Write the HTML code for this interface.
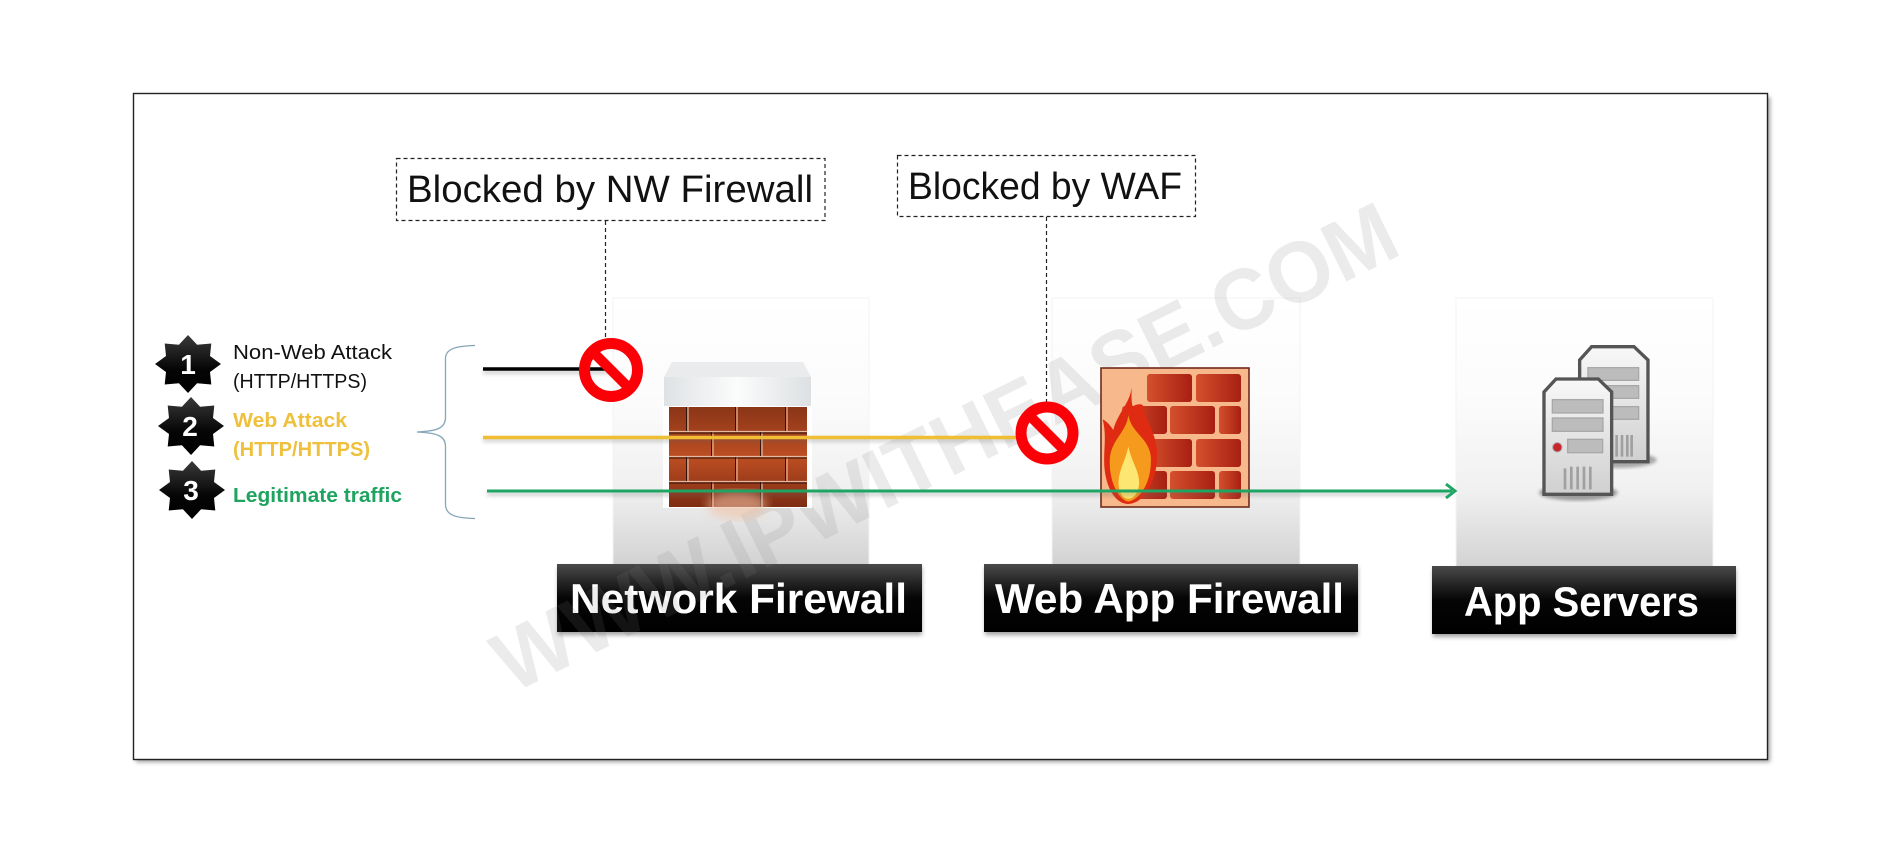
<!DOCTYPE html>
<html><head><meta charset="utf-8"><style>html,body{margin:0;padding:0;background:#fff;width:1900px;height:864px;overflow:hidden}svg{display:block}</style></head>
<body>
<svg width="1900" height="864" viewBox="0 0 1900 864" xmlns="http://www.w3.org/2000/svg" font-family="'Liberation Sans',sans-serif">
<defs>
<linearGradient id="pg" x1="0" y1="0" x2="0" y2="1"><stop offset="0" stop-color="#fff"/><stop offset=".4" stop-color="#fbfbfb"/><stop offset=".72" stop-color="#f0f0f0"/><stop offset="1" stop-color="#d2d2d2"/></linearGradient>
<linearGradient id="lg" x1="0" y1="0" x2="0" y2="1"><stop offset="0" stop-color="#4a4a4a"/><stop offset=".5" stop-color="#050505"/><stop offset="1" stop-color="#000"/></linearGradient>
<linearGradient id="st" x1="0" y1="0" x2="0" y2="1"><stop offset="0" stop-color="#3a3a3a"/><stop offset=".6" stop-color="#050505"/><stop offset="1" stop-color="#000"/></linearGradient>
<linearGradient id="cap" x1="0" y1="0" x2="1" y2="0"><stop offset="0" stop-color="#dfe2e4"/><stop offset=".5" stop-color="#fbfcfc"/><stop offset="1" stop-color="#dde0e2"/></linearGradient>
<linearGradient id="br" x1="0" y1="0" x2="0" y2="1"><stop offset="0" stop-color="#8a3518"/><stop offset=".5" stop-color="#bd4e22"/><stop offset="1" stop-color="#7e2c14"/></linearGradient>
<linearGradient id="wb" x1="0" y1="0" x2="1" y2="0"><stop offset="0" stop-color="#d4502c"/><stop offset="1" stop-color="#a81f12"/></linearGradient>
<linearGradient id="srv" x1="0" y1="0" x2="0" y2="1"><stop offset="0" stop-color="#f8f8f8"/><stop offset="1" stop-color="#d0d0d0"/></linearGradient>
<filter id="sh" x="-10%" y="-200%" width="120%" height="500%"><feGaussianBlur stdDeviation="2"/></filter>
<filter id="b1"><feGaussianBlur stdDeviation="5"/></filter>
<clipPath id="lc"><rect x="557" y="564" width="365" height="68"/></clipPath>
<polygon id="star" points="33,0 22,8 23.3,20.5 9.1,19.3 0,29 -9.1,19.3 -23.3,20.5 -22,8 -33,0 -22,-8 -23.3,-20.5 -9.1,-19.3 0,-29 9.1,-19.3 23.3,-20.5 22,-8" fill="url(#st)"/>
</defs>
<rect width="1900" height="864" fill="#fff"/>
<rect x="136" y="97" width="1634" height="665" fill="#9a9a9a" filter="url(#sh)"/>
<rect x="133.5" y="93.5" width="1634" height="666" fill="#fff" stroke="#222" stroke-width="1.4"/>

<!-- panels -->
<g stroke="#f3f3f3" stroke-width="1">
<rect x="613" y="298" width="256" height="268" fill="url(#pg)"/>
<rect x="1052" y="298" width="248" height="268" fill="url(#pg)"/>
<rect x="1456" y="298" width="257" height="270" fill="url(#pg)"/>
</g>

<!-- watermark -->
<text x="512" y="694" transform="rotate(-26.300 512 694)" font-size="86" font-weight="bold" fill="#888" fill-opacity=".17" textLength="995" lengthAdjust="spacingAndGlyphs">WWW.IPWITHEASE.COM</text>

<!-- dashed boxes -->
<g fill="#fff" stroke="#222" stroke-width="1.2" stroke-dasharray="4 3">
<rect x="396.500" y="158.500" width="428.500" height="62"/>
<rect x="897.500" y="155.500" width="298" height="61"/>
</g>
<g stroke="#222" stroke-width="1.2" stroke-dasharray="4 3" fill="none">
<path d="M605.500 221V340"/><path d="M1046.500 217V404"/>
</g>
<text x="407" y="202" font-size="38" fill="#111" textLength="406" lengthAdjust="spacingAndGlyphs">Blocked by NW Firewall</text>
<text x="908" y="199" font-size="38" fill="#111" textLength="274" lengthAdjust="spacingAndGlyphs">Blocked by WAF</text>

<!-- chimney -->
<rect x="663" y="400" width="149" height="108" fill="#fff"/>
<polygon points="672,362 803,362 811,377 664,377" fill="#e9ebec"/>
<rect x="664" y="377" width="147" height="29" fill="url(#cap)"/>
<rect x="669" y="407" width="138" height="100" fill="url(#br)"/>
<g fill="none" stroke="#e8b8a0" stroke-width="1.200">
<path d="M669 431.500H807M669 456.500H807M669 481.500H807"/>
<path d="M688 407V431M737 407V431M787 407V431M713 432V456M762 432V456M688 457V481M737 457V481M787 457V481M713 482V507M762 482V507"/>
</g>
<g fill="none" stroke="#2a0f06" stroke-width=".9">
<path d="M669 433H807M669 458H807M669 483H807"/>
<path d="M686.500 407V431M735.500 407V431M785.500 407V431M711.500 432V456M760.500 432V456M686.500 457V481M735.500 457V481M785.500 457V481M711.500 482V507M760.500 482V507"/>
</g>
<ellipse cx="737" cy="505" rx="30" ry="14" fill="#f0c0a0" opacity=".6" filter="url(#b1)"/>

<!-- WAF wall -->
<rect x="1101" y="368" width="148" height="139" fill="#f7b88c" stroke="#6e2a1a" stroke-width="1.600"/>
<g fill="url(#wb)">
<rect x="1147" y="374" width="45" height="28" rx="3"/><rect x="1196" y="374" width="45" height="28" rx="3"/>
<rect x="1122" y="406" width="45" height="28" rx="3"/><rect x="1170" y="406" width="45" height="28" rx="3"/><rect x="1219" y="406" width="22" height="28" rx="3"/>
<rect x="1147" y="439" width="45" height="28" rx="3"/><rect x="1196" y="439" width="45" height="28" rx="3"/>
<rect x="1122" y="471" width="45" height="28" rx="3"/><rect x="1170" y="471" width="45" height="28" rx="3"/><rect x="1219" y="471" width="22" height="28" rx="3"/>
</g>
<g transform="translate(1030,290) scale(.3333)">
<path d="M305 292C300 340 262 370 250 420C240 405 232 395 218 388C232 440 218 490 224 540C232 605 262 642 295 642C345 640 382 570 382 490C380 430 345 390 338 345C325 340 315 345 308 350C303 330 305 310 305 292Z" fill="#de2b12"/>
<path d="M295 375C290 425 248 445 240 500C234 565 262 628 295 635C340 625 368 560 362 495C352 440 305 430 295 375Z" fill="#f59a1c"/>
<path d="M295 470C285 520 258 550 268 600C278 635 312 635 324 600C338 555 305 520 295 470Z" fill="#fde772"/>
</g>

<!-- server -->
<g transform="translate(1430,290) scale(.3333)">
<ellipse cx="565" cy="510" rx="115" ry="24" fill="#777" opacity=".6" filter="url(#b1)"/>
<path d="M449 210L485 170H612L654 210V515H449Z" fill="url(#srv)" stroke="#555" stroke-width="10"/>
<g fill="#bcbcbc" stroke="#a8a8a8" stroke-width="4"><rect x="474" y="233" width="152" height="38"/><rect x="474" y="287" width="152" height="38"/><rect x="540" y="350" width="86" height="38"/></g>
<path d="M560 435V500M576 435V500M592 435V500M605 435V500" stroke="#a0a0a0" stroke-width="8"/>
<ellipse cx="445" cy="608" rx="118" ry="24" fill="#666" opacity=".6" filter="url(#b1)"/>
<path d="M342 306L378 267H505L545 306V613H342Z" fill="url(#srv)" stroke="#555" stroke-width="10"/>
<g fill="#bcbcbc" stroke="#a8a8a8" stroke-width="4"><rect x="367" y="329" width="152" height="40"/><rect x="367" y="384" width="152" height="40"/><rect x="413" y="448" width="105" height="40"/></g>
<circle cx="382" cy="472" r="14" fill="#c8262a" stroke="#aaa" stroke-width="3"/>
<path d="M405 535V598M424 530V598M443 530V598M462 530V598M481 530V598" stroke="#a0a0a0" stroke-width="8"/>
</g>

<!-- stars -->
<use href="#star" x="188" y="364"/><use href="#star" x="191" y="426"/><use href="#star" x="192" y="490"/>
<g fill="#fff" font-size="28" font-weight="bold" text-anchor="middle">
<text x="188" y="374">1</text><text x="190" y="436">2</text><text x="191" y="500">3</text>
</g>

<!-- legend -->
<text x="233" y="359" font-size="20" fill="#111" textLength="159" lengthAdjust="spacingAndGlyphs">Non-Web Attack</text>
<text x="233" y="388" font-size="20" fill="#111" textLength="134" lengthAdjust="spacingAndGlyphs">(HTTP/HTTPS)</text>
<text x="233" y="427" font-size="20" font-weight="bold" fill="#efc03c" textLength="114" lengthAdjust="spacingAndGlyphs">Web Attack</text>
<text x="233" y="456" font-size="20" font-weight="bold" fill="#efc03c" textLength="137" lengthAdjust="spacingAndGlyphs">(HTTP/HTTPS)</text>
<text x="233" y="502" font-size="20" font-weight="bold" fill="#1fa460" textLength="169" lengthAdjust="spacingAndGlyphs">Legitimate traffic</text>

<!-- brace -->
<path d="M475 345.500C455 346 446 349 445.500 358V418C445 428 438 431 417 432C438 433 445 436 445.500 446V505C446 515 455 518 475 518.500" fill="none" stroke="#86a6b8" stroke-width="1.300"/>

<!-- lines -->
<g filter="url(#sh)" opacity=".4" stroke="#666" stroke-width="3" fill="none">
<path d="M483 372H610M483 440H1015M487 494H1450"/>
</g>
<path d="M483 369H612" stroke="#000" stroke-width="3.500"/>
<path d="M483 437.500H1025" stroke="#efbe35" stroke-width="3.500"/>
<path d="M487 491H1452" stroke="#1fa563" stroke-width="3"/>
<path d="M1446 484L1455 491L1446 498" fill="none" stroke="#1fa563" stroke-width="3"/>

<!-- prohibit -->
<g fill="none" stroke="#fb0007">
<circle cx="611" cy="370" r="26.500" stroke-width="11"/><path d="M593 352L629 388" stroke-width="10"/>
<circle cx="1047" cy="433" r="26" stroke-width="11"/><path d="M1029 415L1065 451" stroke-width="10"/>
</g>

<!-- labels -->
<g filter="url(#sh)" opacity=".6" fill="#666"><rect x="558" y="567" width="364" height="68"/><rect x="985" y="567" width="373" height="68"/><rect x="1433" y="569" width="303" height="68"/></g>
<rect x="557" y="564" width="365" height="68" fill="url(#lg)"/>
<rect x="984" y="564" width="374" height="68" fill="url(#lg)"/>
<rect x="1432" y="566" width="304" height="68" fill="url(#lg)"/>
<g fill="#fff" font-size="42" font-weight="bold">
<text x="570" y="613" textLength="337" lengthAdjust="spacingAndGlyphs">Network Firewall</text>
<text x="995" y="613" textLength="349" lengthAdjust="spacingAndGlyphs">Web App Firewall</text>
<text x="1464" y="616" textLength="235" lengthAdjust="spacingAndGlyphs">App Servers</text>
</g>
<g clip-path="url(#lc)"><text x="512" y="694" transform="rotate(-26.300 512 694)" font-size="86" font-weight="bold" fill="#888" fill-opacity=".14" textLength="995" lengthAdjust="spacingAndGlyphs" aria-hidden="true">WWW.IPWITHEASE.COM</text></g>
</svg>
</body></html>
